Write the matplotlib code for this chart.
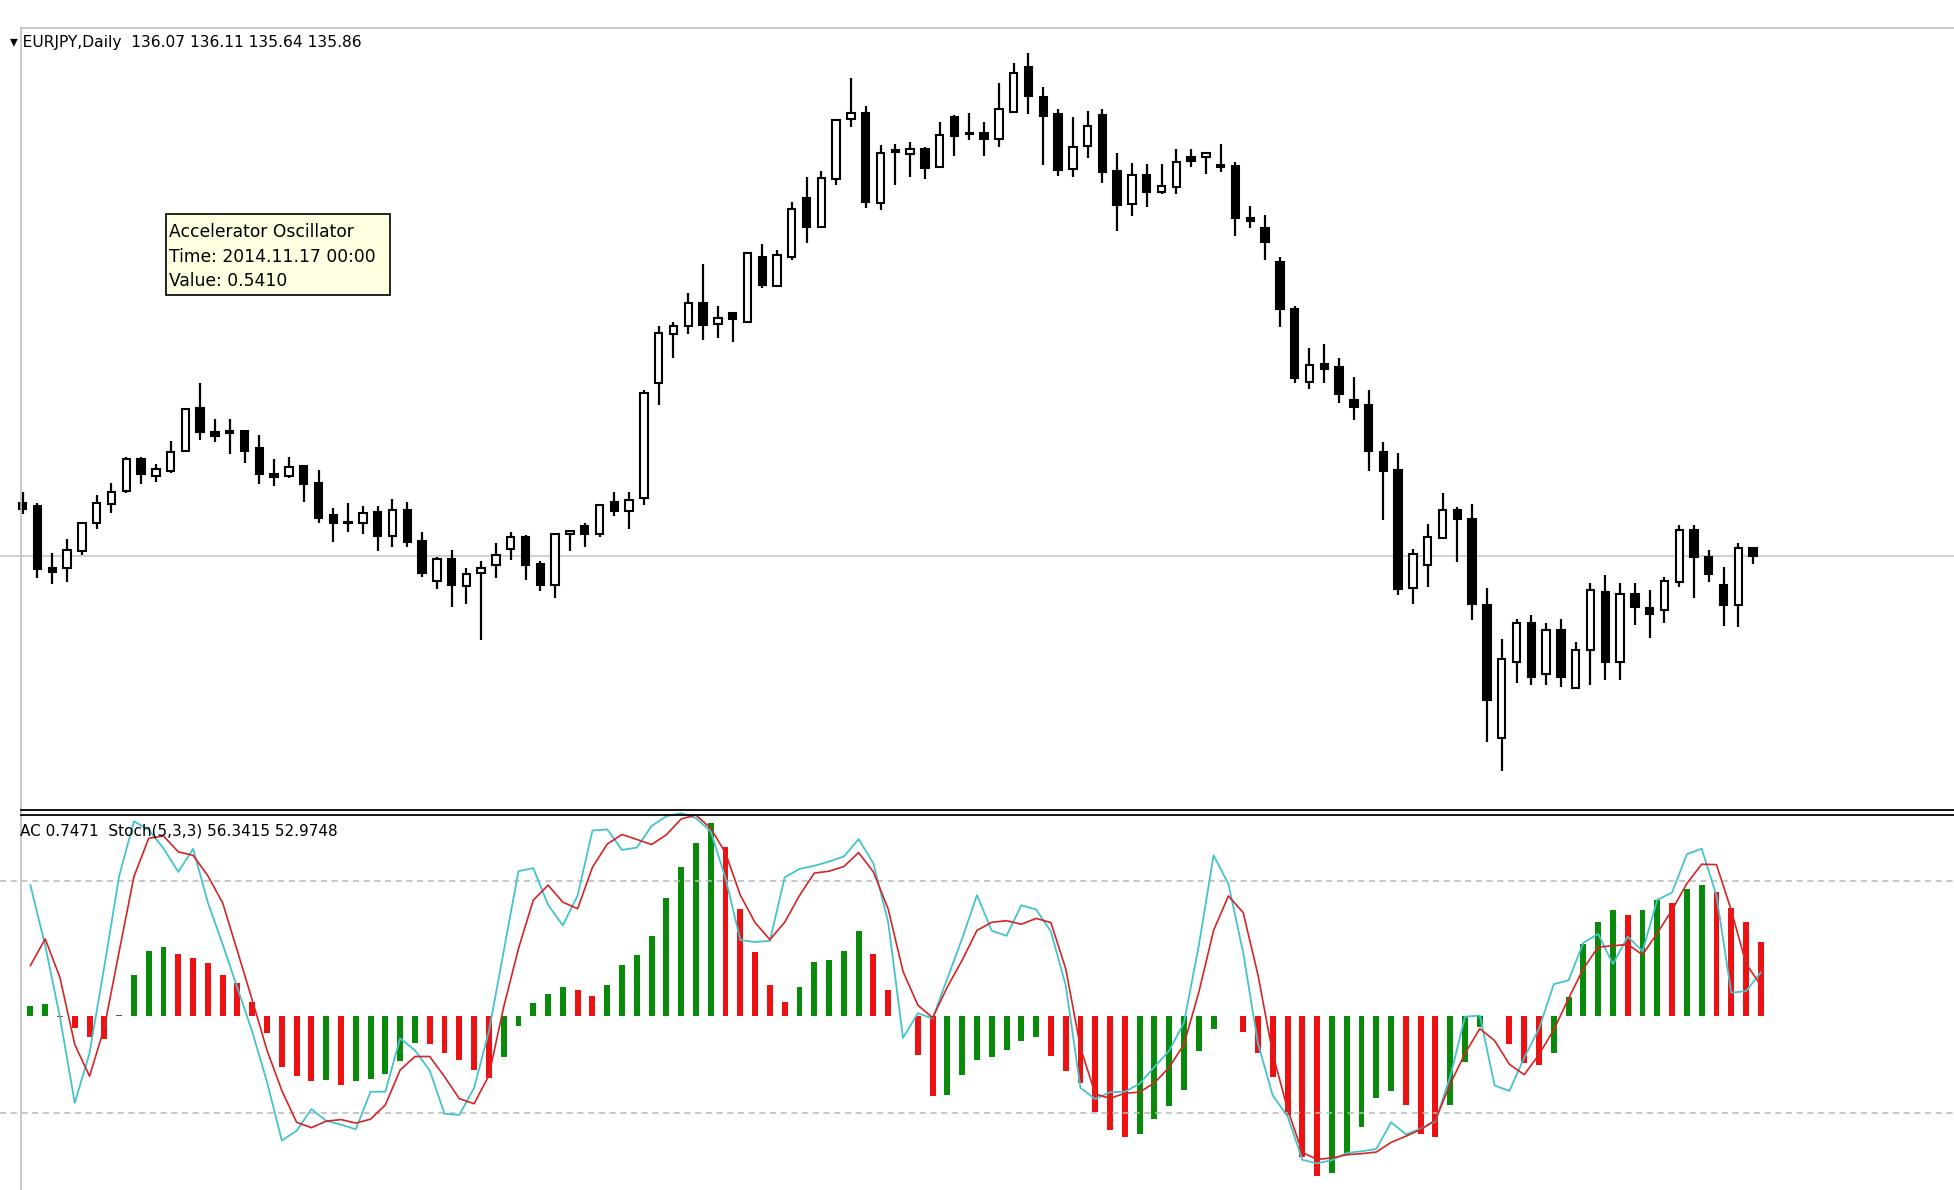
import numpy as np
import matplotlib
matplotlib.use('Agg')
import matplotlib.pyplot as plt
from matplotlib.lines import Line2D
from matplotlib.patches import Rectangle

# daily EURJPY candles
opens = [137.33, 137.24, 135.52, 135.52, 136.00, 136.76, 137.28, 137.66, 138.54, 138.06,
         138.21, 138.76, 139.94, 139.28, 139.30, 139.30, 138.84, 138.12, 138.06, 138.34,
         137.88, 136.99, 136.79, 136.76, 137.08, 136.42, 137.13, 136.27, 135.17, 135.78,
         135.04, 135.38, 135.61, 136.05, 136.39, 135.63, 135.06, 136.47, 136.69, 136.47,
         137.34, 137.11, 137.45, 140.63, 141.97, 142.19, 142.81, 142.24, 142.53, 142.30,
         144.07, 143.29, 144.09, 145.70, 144.90, 146.22, 147.88, 148.05, 145.56, 146.96,
         146.92, 147.05, 146.55, 147.92, 147.50, 147.50, 147.33, 148.08, 149.30, 148.49,
         148.01, 146.49, 147.14, 147.99, 146.45, 145.53, 146.34, 145.86, 146.02, 146.84,
         146.82, 146.59, 146.59, 145.15, 144.89, 143.95, 142.64, 140.65, 141.14, 141.07,
         140.15, 140.01, 138.73, 138.23, 134.97, 135.61, 136.36, 137.13, 136.88, 134.51,
         130.85, 132.95, 134.03, 132.61, 133.83, 132.22, 133.28, 134.88, 132.95, 134.82,
         134.42, 134.38, 135.15, 136.58, 135.82, 135.06, 134.51, 136.07]
highs = [137.63, 137.31, 135.93, 136.33, 136.80, 137.54, 137.88, 138.58, 138.57, 138.38,
         139.03, 139.92, 140.63, 139.64, 139.64, 139.33, 139.19, 138.53, 138.59, 138.36,
         138.23, 137.19, 137.33, 137.24, 137.24, 137.43, 137.34, 136.53, 135.84, 136.03,
         135.52, 135.72, 136.23, 136.53, 136.44, 135.73, 136.50, 136.58, 136.78, 137.29,
         137.63, 137.63, 140.43, 142.19, 142.30, 143.08, 143.89, 142.74, 142.55, 144.23,
         144.44, 144.28, 145.59, 146.29, 146.45, 147.88, 149.00, 148.24, 147.16, 147.19,
         147.25, 147.10, 147.80, 147.99, 148.05, 147.80, 148.86, 149.41, 149.70, 148.75,
         148.15, 147.94, 148.10, 148.14, 146.93, 146.68, 146.64, 146.64, 147.04, 147.04,
         146.98, 147.19, 146.69, 145.49, 145.24, 144.09, 142.74, 141.59, 141.69, 141.30,
         140.79, 140.43, 139.00, 138.68, 136.04, 136.74, 137.58, 137.22, 137.29, 134.99,
         133.57, 134.12, 134.24, 134.01, 134.12, 133.50, 135.13, 135.34, 135.13, 135.13,
         134.93, 135.27, 136.71, 136.71, 136.03, 135.57, 136.21, 136.11]
lows = [137.01, 135.25, 135.09, 135.15, 135.89, 136.59, 137.05, 137.60, 137.84, 137.90,
        138.15, 138.71, 139.05, 139.00, 138.66, 138.41, 137.84, 137.79, 138.00, 137.35,
        136.78, 136.25, 136.51, 136.46, 136.00, 136.10, 136.10, 135.29, 134.94, 134.45,
        134.54, 133.55, 135.25, 135.75, 135.20, 134.91, 134.70, 136.00, 136.10, 136.37,
        136.96, 136.61, 137.26, 140.01, 141.31, 141.97, 141.80, 141.86, 141.75, 142.28,
        143.22, 143.25, 144.00, 144.46, 144.87, 146.06, 147.67, 145.42, 145.38, 146.06,
        146.27, 146.22, 146.52, 146.86, 147.30, 146.86, 147.10, 148.08, 148.02, 146.61,
        146.32, 146.27, 146.81, 146.11, 144.81, 145.22, 145.47, 145.82, 145.81, 146.57,
        146.37, 146.43, 144.66, 144.87, 144.00, 142.15, 140.63, 140.45, 140.61, 140.06,
        139.60, 138.21, 136.85, 134.79, 134.54, 135.02, 136.36, 135.70, 134.10, 130.75,
        129.95, 132.36, 132.31, 132.31, 132.25, 132.22, 132.31, 132.45, 132.45, 133.96,
        133.60, 134.01, 135.02, 134.70, 135.15, 133.94, 133.90, 135.64]
closes = [137.15, 135.49, 135.41, 136.03, 136.78, 137.33, 137.62, 138.53, 138.12, 138.24,
          138.72, 139.89, 139.26, 139.16, 139.25, 138.75, 138.11, 138.02, 138.32, 137.84,
          136.90, 136.76, 136.76, 137.05, 136.41, 137.13, 136.25, 135.40, 135.78, 135.06,
          135.36, 135.54, 135.89, 136.39, 135.61, 135.06, 136.47, 136.56, 136.46, 137.25,
          137.10, 137.40, 140.35, 142.00, 142.19, 142.81, 142.21, 142.40, 142.37, 144.18,
          143.31, 144.14, 145.39, 144.92, 146.25, 147.85, 148.05, 145.60, 146.93, 147.03,
          147.05, 146.52, 147.44, 147.41, 147.47, 147.33, 148.14, 149.13, 148.52, 147.96,
          146.48, 147.12, 147.69, 146.41, 145.51, 146.34, 145.86, 146.04, 146.69, 146.73,
          146.93, 146.57, 145.16, 145.08, 144.50, 142.65, 140.75, 141.11, 140.99, 140.31,
          139.95, 138.75, 138.21, 134.94, 135.92, 136.37, 137.13, 136.87, 134.54, 131.90,
          133.02, 134.03, 132.54, 133.83, 132.54, 133.28, 134.93, 132.95, 134.82, 134.47,
          134.26, 135.17, 136.58, 135.82, 135.37, 134.51, 136.07, 135.86]

# Accelerator Oscillator histogram
ac = [0.104, 0.118, -0.010, -0.120, -0.213, -0.231, 0.010, 0.416, 0.658, 0.700,
      0.627, 0.586, 0.534, 0.415, 0.329, 0.142, -0.172, -0.510, -0.602, -0.653,
      -0.651, -0.697, -0.658, -0.632, -0.587, -0.453, -0.276, -0.285, -0.370, -0.448,
      -0.550, -0.629, -0.412, -0.100, 0.134, 0.223, 0.293, 0.258, 0.203, 0.312,
      0.513, 0.619, 0.803, 1.189, 1.501, 1.752, 1.946, 1.702, 1.078, 0.648,
      0.317, 0.140, 0.297, 0.541, 0.570, 0.652, 0.863, 0.625, 0.264, 0.005,
      -0.390, -0.812, -0.797, -0.597, -0.446, -0.415, -0.342, -0.249, -0.217, -0.404,
      -0.558, -0.677, -0.965, -1.151, -1.221, -1.189, -1.039, -0.913, -0.746, -0.354,
      -0.136, -0.005, -0.157, -0.377, -0.614, -1.003, -1.425, -1.613, -1.581, -1.398,
      -1.123, -0.828, -0.755, -0.899, -1.187, -1.221, -0.903, -0.468, -0.115, 0.003,
      -0.287, -0.473, -0.492, -0.369, 0.195, 0.732, 0.949, 1.067, 1.024, 1.070,
      1.170, 1.144, 1.278, 1.319, 1.257, 1.094, 0.951, 0.7471]

# Stochastic(5,3,3): main (cyan) and signal (red)
stoch_main = [78.9, 63.3, 44.7, 22.6, 35.5, 57.9, 81.2, 95.4, 93.2, 88.4,
              82.3, 88.3, 74.4, 63.6, 52.3, 41.0, 28.0, 12.9, 15.4, 21.0,
              18.0, 17.0, 15.8, 25.5, 25.5, 39.3, 36.2, 31.0, 19.8, 19.5,
              26.5, 41.1, 61.8, 82.5, 83.3, 73.8, 68.5, 76.2, 93.0, 93.3,
              88.0, 88.6, 94.2, 96.7, 97.5, 96.2, 92.8, 80.7, 64.7, 64.2,
              64.5, 80.9, 83.1, 83.9, 85.0, 86.3, 90.8, 84.5, 69.3, 39.4,
              45.8, 44.4, 54.8, 65.1, 76.3, 67.1, 65.8, 73.7, 72.6, 66.9,
              53.0, 26.5, 23.6, 25.4, 25.5, 27.6, 31.9, 36.1, 43.4, 63.3,
              86.6, 79.2, 61.4, 38.0, 24.5, 19.2, 7.9, 7.0, 7.8, 9.7,
              10.1, 10.7, 17.6, 14.5, 15.9, 17.9, 29.4, 44.9, 45.2, 27.1,
              25.7, 34.3, 41.8, 53.3, 54.3, 64.0, 66.3, 58.5, 65.6, 61.8,
              75.1, 77.0, 86.9, 88.3, 76.2, 51.1, 51.5, 56.34]
stoch_signal = [58.1, 65.0, 55.0, 37.7, 29.5, 42.1, 61.7, 81.1, 91.0, 91.6,
                87.5, 86.6, 81.3, 74.3, 61.8, 49.2, 36.2, 25.8, 17.6, 16.2,
                17.9, 18.3, 17.4, 18.4, 22.1, 31.1, 34.6, 34.6, 29.4, 23.7,
                22.4, 29.7, 47.4, 62.5, 75.0, 78.9, 74.5, 72.8, 83.5, 89.5,
                92.0, 90.7, 89.4, 91.9, 96.0, 97.0, 93.6, 87.2, 76.3, 69.2,
                64.8, 69.3, 76.2, 82.0, 82.5, 83.7, 87.3, 82.3, 72.7, 56.6,
                47.9, 44.6, 52.6, 59.5, 67.2, 69.3, 69.7, 68.8, 70.3, 69.2,
                57.3, 36.9, 24.9, 23.8, 25.1, 25.4, 27.8, 31.8, 37.8, 51.2,
                67.2, 76.1, 71.8, 55.7, 35.3, 21.0, 9.8, 8.0, 8.4, 9.2,
                9.5, 9.9, 12.4, 14.0, 15.7, 18.2, 27.5, 35.4, 41.8, 38.7,
                32.6, 29.9, 35.1, 41.5, 49.6, 57.3, 62.9, 63.2, 63.6, 60.9,
                66.5, 72.5, 79.3, 84.3, 84.2, 72.4, 58.6, 52.97]
stoch_levels = [20, 80]

W, H = 1954, 1190
fig = plt.figure(figsize=(W / 100, H / 100), dpi=100)
fig.patch.set_facecolor('white')

o = np.array(opens)
h = np.array(highs)
l = np.array(lows)
c = np.array(closes)
x = np.arange(len(o))

# price window
ax = fig.add_axes([0, 1 - 800 / H, 1, 770 / H])
ax.set_xlim(-1.535, 130.58)
ax.set_ylim(129.15, 150.325)
ax.axhline(c[-1], color='#c8c8c8', lw=1.2, zorder=1)
up = c >= o
ax.vlines(x, l, h, color='black', lw=1.6, zorder=2)
body_low = np.minimum(o, c)
body_h = np.maximum(np.abs(c - o), 0.03)
ax.bar(x, body_h, 0.5, bottom=body_low, color=np.where(up, 'white', 'black'),
       edgecolor='black', linewidth=1.5, zorder=3)
ax.axis('off')

# indicator window: AC + Stoch share it
ax2 = fig.add_axes([0, 0, 1, 378 / H])
ax2.set_xlim(-1.535 - 0.52, 130.58 - 0.52)
ax2.set_ylim(-1.757, 2.06)
acv = np.array(ac)
col = ['#0a8a0a'] + ['#0a8a0a' if acv[i] > acv[i - 1] else '#ee1111' for i in range(1, len(acv))]
ax2.bar(x, acv, 0.4, color=col, zorder=2)
ax2.axis('off')

ax3 = ax2.twinx()
ax3.set_xlim(ax2.get_xlim())
ax3.set_ylim(0.1, 97.8)
for lv in stoch_levels:
    ax3.axhline(lv, color='#b8b8b8', lw=1.1, ls=(0, (4, 3)), zorder=1)
ax3.plot(x, stoch_main, color='#45c3cc', lw=1.3, zorder=4)
ax3.plot(x, stoch_signal, color='#d42424', lw=1.2, zorder=5)
ax3.axis('off')

# window frame lines
fig.add_artist(Line2D([21 / W, 21 / W], [0, 1 - 28 / H], color='#c0c0c0', lw=1.2))
fig.add_artist(Line2D([21 / W, 1], [1 - 28 / H, 1 - 28 / H], color='#c0c0c0', lw=1.2))
fig.add_artist(Line2D([21 / W, 1], [1 - 810 / H, 1 - 810 / H], color='black', lw=1.3))
fig.add_artist(Line2D([21 / W, 1], [1 - 814.5 / H, 1 - 814.5 / H], color='black', lw=1.3))

# labels
fig.text(10 / W, 1 - 42 / H, '\u25be EURJPY,Daily  136.07 136.11 135.64 135.86',
         fontsize=11.2, va='center', ha='left', color='black')
fig.text(20 / W, 1 - 831 / H, 'AC 0.7471  Stoch(5,3,3) 56.3415 52.9748',
         fontsize=11, va='center', ha='left', color='black')

# tooltip
fig.add_artist(Rectangle((166 / W, 1 - 295 / H), 224 / W, 81 / H, transform=fig.transFigure,
                         facecolor='#ffffe1', edgecolor='black', lw=1.2))
tip = ['Accelerator Oscillator', 'Time: 2014.11.17 00:00', 'Value: 0.5410']
for k, line in enumerate(tip):
    fig.text(169 / W, 1 - (232 + 24.5 * k) / H, line, fontsize=12.3, va='center', ha='left')

fig.savefig('out.png', dpi=100, facecolor='white')
